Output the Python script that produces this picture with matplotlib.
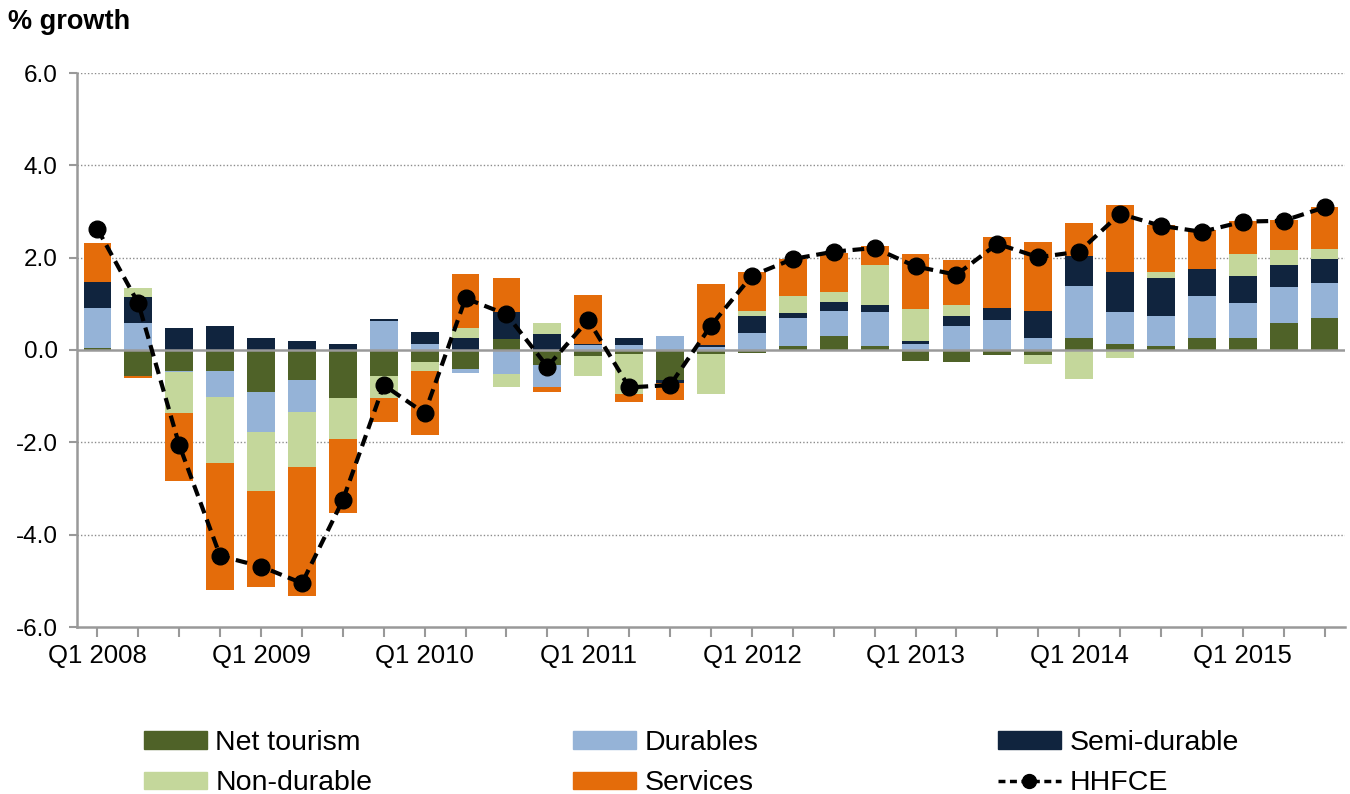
import matplotlib
matplotlib.use("Agg")
import matplotlib.pyplot as plt
import numpy as np
from matplotlib.patches import Patch
from matplotlib.lines import Line2D

plt.rcParams['font.family'] = ['Liberation Sans', 'DejaVu Sans']
plt.rcParams['axes.unicode_minus'] = False

quarters = [f"Q{q} {y}" for y in range(2008, 2016) for q in range(1, 5)][:31]

net_tourism = [0.05, -0.56, -0.45, -0.45, -0.92, -0.65, -1.05, -0.56, -0.25, -0.41, 0.23, -0.32, -0.13, -0.09, -0.65, -0.09,
               -0.06, 0.09, 0.30, 0.09, -0.23, -0.27, -0.11, -0.10, 0.25, 0.13, 0.09, 0.25, 0.25, 0.58, 0.69]
durables = [0.85, 0.58, -0.03, -0.56, -0.85, -0.69, 0.0, 0.62, 0.14, -0.08, -0.53, -0.49, 0.11, 0.11, 0.30, 0.07,
            0.37, 0.60, 0.55, 0.73, 0.13, 0.53, 0.65, 0.25, 1.13, 0.69, 0.64, 0.92, 0.76, 0.79, 0.76]
semi_durable = [0.57, 0.56, 0.47, 0.51, 0.27, 0.19, 0.14, 0.05, 0.26, 0.27, 0.60, 0.35, 0.03, 0.16, -0.07, 0.04,
                0.37, 0.12, 0.20, 0.15, 0.07, 0.21, 0.27, 0.60, 0.66, 0.87, 0.84, 0.59, 0.60, 0.48, 0.53]
non_durable = [0.0, 0.21, -0.89, -1.44, -1.28, -1.19, -0.88, -0.49, -0.20, 0.20, -0.27, 0.24, -0.43, -0.87, 0.0, -0.87,
               0.10, 0.36, 0.20, 0.88, 0.69, 0.23, 0.0, -0.20, -0.63, -0.18, 0.12, 0.0, 0.48, 0.32, 0.20]
services = [0.84, -0.05, -1.47, -2.75, -2.08, -2.80, -1.59, -0.51, -1.39, 1.17, 0.72, -0.11, 1.05, -0.17, -0.36, 1.32,
            0.84, 0.80, 0.85, 0.40, 1.20, 0.97, 1.53, 1.48, 0.72, 1.44, 1.01, 0.85, 0.71, 0.65, 0.92]
hhfce = [2.62, 1.01, -2.06, -4.46, -4.69, -5.05, -3.25, -0.76, -1.37, 1.12, 0.77, -0.36, 0.65, -0.81, -0.76, 0.53,
         1.61, 1.97, 2.13, 2.21, 1.81, 1.63, 2.30, 2.01, 2.13, 2.95, 2.69, 2.56, 2.78, 2.80, 3.09]

series_names = ["Net tourism", "Durables", "Semi-durable", "Non-durable", "Services"]
series_vals = [net_tourism, durables, semi_durable, non_durable, services]
colors = ["#4F6228", "#95B3D7", "#10243E", "#C4D79B", "#E46C0A"]

fig = plt.figure(figsize=(13.5, 7.94), dpi=100)
ax = fig.add_axes([77/1350, 1-627/794, (1345-77)/1350, (627-73)/794])

x = np.arange(len(quarters))
pos_bottom = np.zeros(len(x))
neg_bottom = np.zeros(len(x))
for name, vals, c in zip(series_names, series_vals, colors):
    v = np.array(vals)
    pos = np.where(v > 0, v, 0)
    neg = np.where(v < 0, v, 0)
    ax.bar(x, pos, 0.68, bottom=pos_bottom, color=c, linewidth=0, zorder=3)
    ax.bar(x, neg, 0.68, bottom=neg_bottom, color=c, linewidth=0, zorder=3)
    pos_bottom += pos
    neg_bottom += neg

ax.plot(x, hhfce, color='black', linestyle=(0, (2.8, 1.6)), linewidth=3, marker='o',
        markersize=12, zorder=5)

ax.set_xlim(-0.5, len(x) - 0.5)
ax.set_ylim(-6, 6)
yt = [-6, -4, -2, 0, 2, 4, 6]
ax.set_yticks(yt)
ax.set_yticklabels([f"{v:.1f}" for v in yt], fontsize=17.5)
for v in [-4, -2, 2, 4, 6]:
    ax.axhline(v, color='#8c8c8c', linestyle=(0, (1, 1.5)), linewidth=1, zorder=1)
ax.axhline(0, color='#999999', linewidth=1.8, zorder=4)

ax.set_xticks(x)
ax.set_xticklabels([q if q.startswith("Q1") else "" for q in quarters], fontsize=18.5)
ax.tick_params(axis='x', length=7, width=1.5, color='#999999', pad=5)
ax.tick_params(axis='y', length=6, width=1.5, color='#999999', pad=8)

for s in ['top', 'right']:
    ax.spines[s].set_visible(False)
for s in ['left', 'bottom']:
    ax.spines[s].set_color('#999999')
    ax.spines[s].set_linewidth(1.8)

fig.text(8/1350, 1-22/794, "% growth", fontsize=19.5, fontweight='bold', va='center', ha='left')

handles = [Patch(color=c) for c in colors]
hline = Line2D([], [], color='black', linestyle=(0, (2.0, 1.3)), linewidth=2.5, marker='o', markersize=10)
cols = [
    ([handles[0], handles[3]], ["Net tourism", "Non-durable"], 144),
    ([handles[1], handles[4]], ["Durables", "Services"], 573),
    ([handles[2], hline], ["Semi-durable", "HHFCE"], 998),
]
for hs, ls, xpx in cols:
    fig.legend(hs, ls, loc='upper left', bbox_to_anchor=(xpx/1350, 1-730/794),
               frameon=False, fontsize=20.5, handlelength=2.2, handleheight=0.55,
               handletextpad=0.3, labelspacing=0.5, borderpad=0, borderaxespad=0)

fig.savefig("out.png", dpi=100)
